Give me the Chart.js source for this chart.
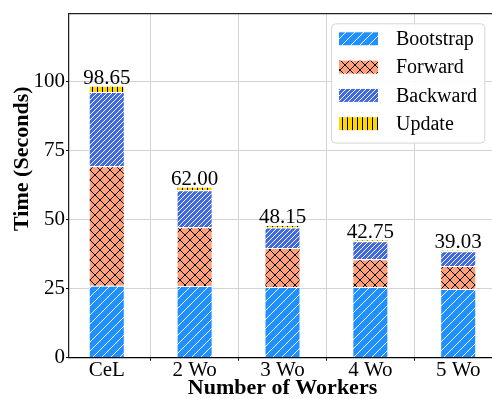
<!DOCTYPE html>
<html>
<head>
<meta charset="utf-8">
<script src="https://cdn.jsdelivr.net/npm/chart.js@4/dist/chart.umd.min.js"></script>
<style>
  html, body { margin: 0; padding: 0; overflow: hidden; background: #fff; }
  canvas { display: block; }
</style>
</head>
<body>
<canvas id="chart" width="496" height="399"></canvas>
<script>
// Time per phase (seconds) for each worker configuration
const categories = ['CeL', '2 Wo', '3 Wo', '4 Wo', '5 Wo'];
const bootstrap  = [26.1, 26.0, 25.6, 25.6, 24.9];
const forward    = [43.3, 21.3, 14.2, 10.1, 8.4];
const backward   = [27.0, 13.4, 7.4, 6.5, 5.3];
const update     = [2.25, 1.3, 0.95, 0.55, 0.43];
const yTicks     = [0, 25, 50, 75, 100];

const FONT = '"Liberation Serif", "Times New Roman", serif';

// Build a repeating hatch fill
function hatch(bg, fg, size, lw, kinds) {
  const c = document.createElement('canvas');
  c.width = c.height = size;
  const g = c.getContext('2d');
  g.fillStyle = bg;
  g.fillRect(0, 0, size, size);
  g.strokeStyle = fg;
  g.lineWidth = lw;
  g.beginPath();
  for (const k of kinds) {
    if (k === '/') {
      g.moveTo(0, size); g.lineTo(size, 0);
      g.moveTo(-1, 1); g.lineTo(1, -1);
      g.moveTo(size - 1, size + 1); g.lineTo(size + 1, size - 1);
    } else if (k === '\\') {
      g.moveTo(0, 0); g.lineTo(size, size);
      g.moveTo(-1, size - 1); g.lineTo(1, size + 1);
      g.moveTo(size - 1, -1); g.lineTo(size + 1, 1);
    } else if (k === '|') {
      g.moveTo(size / 2, 0); g.lineTo(size / 2, size);
    }
  }
  g.stroke();
  return g.createPattern(c, 'repeat');
}

const ctx = document.getElementById('chart').getContext('2d');
const fills = {
  bootstrap: hatch('#1E90FF', '#ffffff', 9, 1, ['/']),
  forward:   hatch('#FFA07A', '#000000', 10, 1, ['/', '\\']),
  backward:  hatch('#4169E1', '#ffffff', 5, 1, ['/']),
  update:    hatch('#FFD700', '#000000', 5, 1, ['|'])
};

const toPoints = arr => arr.map((v, i) => ({ x: i, y: v }));
const totals = categories.map((_, i) =>
  Math.round((bootstrap[i] + forward[i] + backward[i] + update[i]) * 100) / 100);

const barStyle = { borderColor: '#ffffff', borderWidth: 1, categoryPercentage: 1, barPercentage: 0.41 };

// Total value above each stack
const totalLabels = {
  id: 'totalLabels',
  afterDatasetsDraw(chart) {
    const c = chart.ctx;
    const meta = chart.getDatasetMeta(chart.data.datasets.length - 1);
    c.save();
    c.font = '21px ' + FONT;
    c.fillStyle = '#000';
    c.textAlign = 'center';
    c.textBaseline = 'alphabetic';
    meta.data.forEach((el, i) => {
      c.fillText(totals[i].toFixed(2), el.x, el.y - 2);
    });
    c.restore();
  }
};

// Frame lines, y-axis title and the in-plot legend
const frameAndLegend = {
  id: 'frameAndLegend',
  afterDraw(chart) {
    const c = chart.ctx;
    const a = chart.chartArea;
    c.save();
    c.strokeStyle = '#222';
    c.lineWidth = 1.25;
    c.beginPath();
    c.moveTo(a.left, a.top); c.lineTo(a.right, a.top);
    c.lineTo(a.right, a.bottom);
    c.stroke();

    // y-axis title
    c.save();
    c.translate(22, 158.7);
    c.rotate(-Math.PI / 2);
    c.font = 'bold 22px ' + FONT;
    c.fillStyle = '#000';
    c.textAlign = 'center';
    c.textBaseline = 'middle';
    c.fillText('Time (Seconds)', 0, 0);
    c.restore();

    // legend box
    const bx = a.right - 165, by = a.top + 9.7, bw = 153.3, bh = 119.3;
    c.fillStyle = 'rgba(255,255,255,0.9)';
    c.strokeStyle = '#d6d6d6';
    c.lineWidth = 1;
    c.beginPath();
    c.roundRect(bx + 0.5, by + 0.5, bw, bh, 4);
    c.fill();
    c.stroke();

    c.font = '20px ' + FONT;
    c.textAlign = 'left';
    c.textBaseline = 'middle';
    chart.data.datasets.forEach((ds, i) => {
      const cy = by + 15.5 + i * 28.3;
      c.fillStyle = ds.backgroundColor;
      c.fillRect(bx + 7.5, cy - 7, 40, 14);
      c.strokeStyle = '#ffffff';
      c.strokeRect(bx + 7.5, cy - 7, 40, 14);
      c.fillStyle = '#000';
      c.fillText(ds.label, bx + 65, cy + 1);
    });
    c.restore();
  }
};

new Chart(ctx, {
  type: 'bar',
  data: {
    datasets: [
      { label: 'Bootstrap', data: toPoints(bootstrap), backgroundColor: fills.bootstrap, ...barStyle },
      { label: 'Forward',   data: toPoints(forward),   backgroundColor: fills.forward,   ...barStyle },
      { label: 'Backward',  data: toPoints(backward),  backgroundColor: fills.backward,  ...barStyle },
      { label: 'Update',    data: toPoints(update),    backgroundColor: fills.update,    ...barStyle }
    ]
  },
  options: {
    responsive: false,
    animation: false,
    devicePixelRatio: 1,
    layout: { padding: { top: 11, left: 0, right: 0, bottom: 0 } },
    plugins: { legend: { display: false }, tooltip: { enabled: false } },
    scales: {
      x: {
        type: 'linear',
        min: -0.43,
        max: 4.43,
        stacked: true,
        offset: false,
        afterBuildTicks: s => { s.ticks = categories.map((_, i) => ({ value: i })); },
        afterFit: s => { s.height = 41.3; },
        ticks: {
          callback: v => categories[v],
          font: { family: FONT, size: 21 },
          color: '#000',
          padding: -3,
          maxRotation: 0,
          autoSkip: false
        },
        grid: { color: '#d4d4d4', lineWidth: 1, tickLength: 3, tickColor: '#000' },
        border: { color: '#000', width: 1.25 },
        title: {
          display: true,
          text: 'Number of Workers',
          font: { family: FONT, size: 22, weight: 'bold', lineHeight: 0.95 },
          color: '#000',
          padding: { top: 0, bottom: 0 }
        }
      },
      y: {
        stacked: true,
        min: 0,
        max: 124.8,
        afterBuildTicks: s => { s.ticks = yTicks.map(v => ({ value: v })); },
        afterFit: s => { s.width = 69; },
        ticks: {
          font: { family: FONT, size: 21 },
          color: '#000',
          padding: 1
        },
        grid: { color: '#d4d4d4', lineWidth: 1, tickLength: 3, tickColor: '#000' },
        border: { color: '#222', width: 1.25 },
        title: { display: false }
      }
    }
  },
  plugins: [totalLabels, frameAndLegend]
});
</script>
</body>
</html>
